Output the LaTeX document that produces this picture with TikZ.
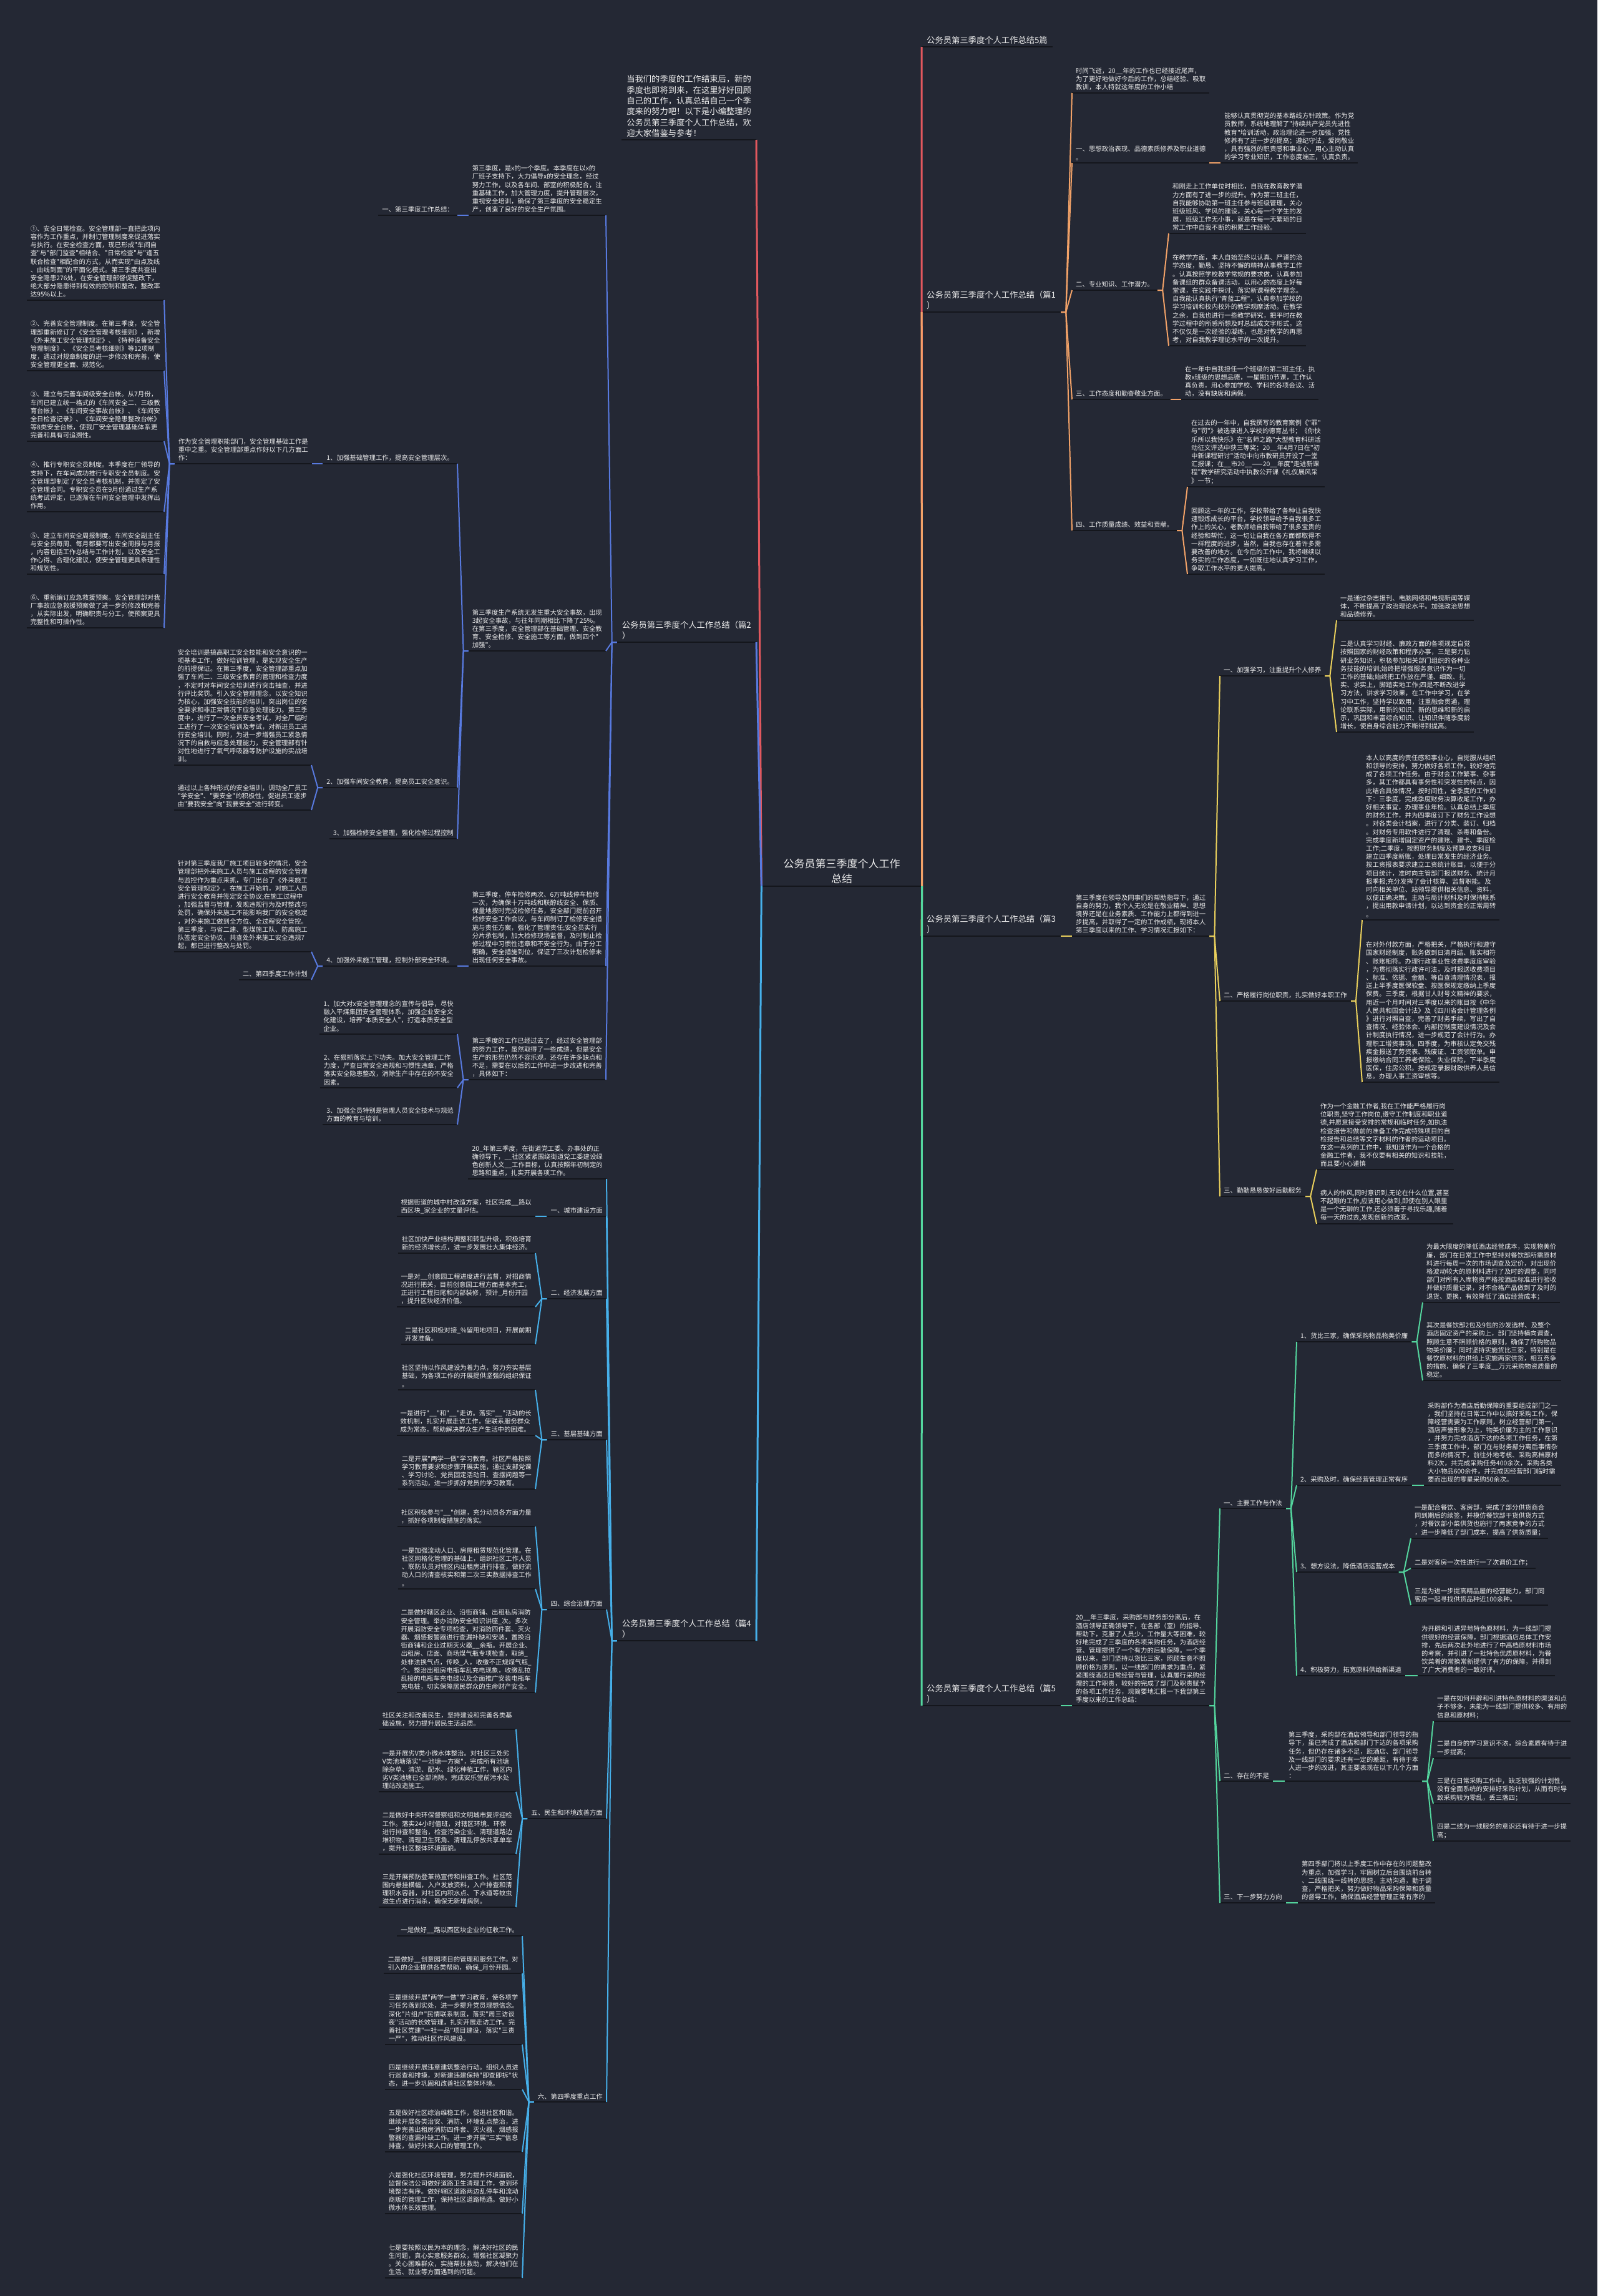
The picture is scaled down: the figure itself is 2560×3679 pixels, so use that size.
\documentclass[tikz,border=0pt]{standalone}
\usepackage{fontspec}
\setmainfont{Noto Sans CJK SC}[Ligatures=TeXOff]
\definecolor{bgc}{RGB}{36,40,52}
\definecolor{fg}{RGB}{236,236,236}
\definecolor{ulc}{RGB}{20,22,28}
\definecolor{cred}{RGB}{226,88,94}
\definecolor{cb2}{RGB}{88,122,224}
\definecolor{cb4}{RGB}{70,176,234}
\definecolor{co1}{RGB}{242,162,104}
\definecolor{cy3}{RGB}{234,208,92}
\definecolor{cg5}{RGB}{84,214,158}
\newcommand{\linkleft}[3]{\foreach \ch in {#3}{\draw[lk, draw=#1] (#2.south west) -- ++(-8,0) -- (\ch.south east);}}
\newcommand{\linkright}[3]{\foreach \ch in {#3}{\draw[lk, draw=#1] (#2.south east) -- ++(8,0) -- (\ch.south west);}}
\begin{document}
\begin{tikzpicture}[x=1pt, y=-1pt,
  txt/.style={font=\fontsize{10.4}{13.2}\selectfont, text=fg, align=left, inner xsep=6pt, inner ysep=4pt,
    append after command={(\tikzlastnode.south west) edge[draw=ulc, line width=2.4pt] (\tikzlastnode.south east)}},
  bigtxt/.style={txt, font=\fontsize{13.3}{17.4}\selectfont, inner xsep=8pt},
  lb/.style={txt, anchor=south east}, rb/.style={txt, anchor=south west},
  lbig/.style={bigtxt, anchor=south east}, rbig/.style={bigtxt, anchor=south west},
  lk/.style={line width=2pt, line join=round},
  trunk/.style={line width=3pt}]
\fill[bgc] (0,0) rectangle (2560,3679);
\useasboundingbox (0,0) rectangle (2560,3679);

\node[txt, font=\fontsize{17}{24}\selectfont, align=center, minimum width=257pt, anchor=south] (root) at (1349,1420) {公务员第三季度个人工作\\总结};

\node[lbig] (intro) at (1212,224) {当我们的季度的工作结束后，新的\\季度也即将到来，在这里好好回顾\\自己的工作，认真总结自己一个季\\度来的努力吧！以下是小编整理的\\公务员第三季度个人工作总结，欢\\迎大家借鉴与参考！};
\node[lbig] (p2) at (1212,1029) {公务员第三季度个人工作总结（篇2\\）};
\node[lbig] (p4) at (1212,2629) {公务员第三季度个人工作总结（篇4\\）};

\node[lb] (p2a) at (971,345) {第三季度，是x的一个季度。本季度在以x的\\厂班子支持下，大力倡导x的安全理念，经过\\努力工作，以及各车间、部室的积极配合，注\\重基础工作，加大管理力度，提升管理层次，\\重视安全培训，确保了第三季度的安全稳定生\\产，创造了良好的安全生产氛围。};
\node[lb] (p2a1) at (733,345) {一、第三季度工作总结：};
\node[lb] (p2b) at (971,1043) {第三季度生产系统无发生重大安全事故，出现\\3起安全事故，与往年同期相比下降了25\%。\\在第三季度，安全管理部在基础管理、安全教\\育、安全检修、安全施工等方面，做到四个"\\加强"。};
\node[lb] (p2b1) at (733,743) {1、加强基础管理工作，提高安全管理层次。};
\node[lb] (p2b1a) at (500,743) {作为安全管理职能部门，安全管理基础工作是\\重中之重。安全管理部重点作好以下几方面工\\作：};
\node[lb] (k1) at (263,481) {①、安全日常检查。安全管理部一直把此项内\\容作为工作重点，并制订管理制度来促进落实\\与执行。在安全检查方面，现已形成"车间自\\查"与"部门监查"相结合、"日常检查"与"逢五\\联合检查"相配合的方式，从而实现"由点及线\\、由线到面"的平面化模式。第三季度共查出\\安全隐患276处，在安全管理部督促整改下，\\绝大部分隐患得到有效的控制和整改，整改率\\达95\%以上。};
\node[lb] (k2) at (263,594) {②、完善安全管理制度。在第三季度，安全管\\理部重新修订了《安全管理考核细则》，新增\\《外来施工安全管理规定》、《特种设备安全\\管理制度》、《安全员考核细则》等12项制\\度，通过对规章制度的进一步修改和完善，使\\安全管理更全面、规范化。};
\node[lb] (k3) at (263,707) {③、建立与完善车间级安全台帐。从7月份，\\车间已建立统一格式的《车间安全二、三级教\\育台帐》、《车间安全事故台帐》、《车间安\\全日检查记录》、《车间安全隐患整改台帐》\\等8类安全台帐，使我厂安全管理基础体系更\\完善和具有可追溯性。};
\node[lb] (k4) at (263,820) {④、推行专职安全员制度。本季度在厂领导的\\支持下，在车间成功推行专职安全员制度。安\\全管理部制定了安全员考核机制，并签定了安\\全管理合同。专职安全员在9月份通过生产系\\统考试评定，已逐渐在车间安全管理中发挥出\\作用。};
\node[lb] (k5) at (263,920) {⑤、建立车间安全周报制度。车间安全副主任\\与安全员每周、每月都要写出安全周报与月报\\，内容包括工作总结与工作计划，以及安全工\\作心得、合理化建议，使安全管理更具条理性\\和规划性。};
\node[lb] (k6) at (263,1006) {⑥、重新编订应急救援预案。安全管理部对我\\厂事故应急救援预案做了进一步的修改和完善\\，从实际出发，明确职责与分工，使预案更具\\完整性和可操作性。};
\node[lb] (p2b2) at (733,1262) {2、加强车间安全教育，提高员工安全意识。};
\node[lb] (p2b2a) at (499,1226) {安全培训是搞高职工安全技能和安全意识的一\\项基本工作，做好培训管理，是实现安全生产\\的前提保证。在第三季度，安全管理部重点加\\强了车间二、三级安全教育的管理和检查力度\\，不定时对车间安全培训进行突击抽查，并进\\行评比奖罚。引入安全管理理念，以安全知识\\为核心，加强安全技能的培训，突出岗位的安\\全要求和非正常情况下应急处理能力。第三季\\度中，进行了一次全员安全考试，对全厂临时\\工进行了一次安全培训及考试，对新进员工进\\行安全培训。同时，为进一步增强员工紧急情\\况下的自救与应急处理能力，安全管理部有针\\对性地进行了氧气呼吸器等防护设施的实战培\\训。};
\node[lb] (p2b2b) at (499,1298) {通过以上各种形式的安全培训，调动全厂员工\\"学安全"、"要安全"的积极性，促进员工逐步\\由"要我安全"向"我要安全"进行转变。};
\node[lb] (p2b3) at (733,1344) {3、加强检修安全管理，强化检修过程控制};
\node[lb] (p2c) at (971,1548) {第三季度，停车检修两次、6万吨线停车检修\\一次，为确保十万吨线和联醇线安全、保质、\\保量地按时完成检修任务，安全部门提前召开\\检修安全工作会议，与车间制订了检修安全措\\施与责任方案，强化了管理责任;安全员实行\\分片承包制，加大检修现场监督，及时制止检\\修过程中习惯性违章和不安全行为。由于分工\\明确，安全措施到位，保证了三次计划检修未\\出现任何安全事故。};
\node[lb] (p2c1) at (733,1548) {4、加强外来施工管理，控制外部安全环境。};
\node[lb] (p2c1a) at (499,1525) {针对第三季度我厂施工项目较多的情况，安全\\管理部把外来施工人员与施工过程的安全管理\\与监控作为重点来抓，专门出台了《外来施工\\安全管理规定》。在施工开始前，对施工人员\\进行安全教育并签定安全协议;在施工过程中\\，加强监督与管理，发现违规行为及时整改与\\处罚，确保外来施工不能影响我厂的安全稳定\\，对外来施工做到全方位、全过程安全管控。\\第三季度，与省二建、型煤施工队、防腐施工\\队签定安全协议，共查处外来施工安全违规7\\起，都已进行整改与处罚。};
\node[lb] (p2c1b) at (499,1570) {二、第四季度工作计划};
\node[lb] (p2d) at (971,1730) {第三季度的工作已经过去了，经过安全管理部\\的努力工作，虽然取得了一些成绩，但是安全\\生产的形势仍然不容乐观，还存在许多缺点和\\不足，需要在以后的工作中进一步改进和完善\\，具体如下：};
\node[lb] (p2d1) at (733,1657) {1、加大对x安全管理理念的宣传与倡导，尽快\\融入平煤集团安全管理体系，加强企业安全文\\化建设，培养"本质安全人"，打造本质安全型\\企业。};
\node[lb] (p2d2) at (733,1743) {2、在狠抓落实上下功夫。加大安全管理工作\\力度，严查日常安全违规和习惯性违章，严格\\落实安全隐患整改，消除生产中存在的不安全\\因素。};
\node[lb] (p2d3) at (733,1802) {3、加强全员特别是管理人员安全技术与规范\\方面的教育与培训。};

\node[lb] (p4a) at (972,1889) {20\_年第三季度，在街道党工委、办事处的正\\确领导下，\_\_社区紧紧围绕街道党工委建设绿\\色创新人文\_\_工作目标，认真按照年初制定的\\思路和重点，扎实开展各项工作。};
\node[lb] (p4b) at (972,1949) {一、城市建设方面};
\node[lb] (p4b1) at (858,1949) {根据街道的城中村改造方案，社区完成\_\_路以\\西区块\_家企业的丈量评估。};
\node[lb] (p4c) at (972,2081) {二、经济发展方面};
\node[lb] (p4c1) at (858,2008) {社区加快产业结构调整和转型升级，积极培育\\新的经济增长点，进一步发展壮大集体经济。};
\node[lb] (p4c2) at (858,2094) {一是对\_\_创意园工程进度进行监督，对招商情\\况进行把关，目前创意园工程方面基本完工，\\正进行工程扫尾和内部装修，预计\_月份开园\\，提升区块经济价值。};
\node[lb] (p4c3) at (858,2154) {二是社区积极对接\_\%留用地项目，开展前期\\开发准备。};
\node[lb] (p4d) at (972,2307) {三、基层基础方面};
\node[lb] (p4d1) at (858,2227) {社区坚持以作风建设为着力点，努力夯实基层\\基础，为各项工作的开展提供坚强的组织保证\\。};
\node[lb] (p4d2) at (858,2300) {一是进行"\_\_"和"\_\_"走访。落实"\_\_"活动的长\\效机制，扎实开展走访工作，使联系服务群众\\成为常态，帮助解决群众生产生活中的困难。};
\node[lb] (p4d3) at (858,2386) {二是开展"两学一做"学习教育。社区严格按照\\学习教育要求和步骤开展实施，通过支部党课\\、学习讨论、党员固定活动日、查摆问题等一\\系列活动，进一步抓好党员的学习教育。};
\node[lb] (p4e) at (972,2579) {四、综合治理方面};
\node[lb] (p4e1) at (858,2446) {社区积极参与"\_\_"创建，充分动员各方面力量\\，抓好各项制度措施的落实。};
\node[lb] (p4e2) at (858,2546) {一是加强流动人口、房屋租赁规范化管理。在\\社区网格化管理的基础上，组织社区工作人员\\、联防队员对辖区内出租房进行排查，做好流\\动人口的清查核实和第二次三实数据排查工作\\。};
\node[lb] (p4e3) at (858,2712) {二是做好辖区企业、沿街商铺、出租私房消防\\安全管理。举办消防安全知识讲座\_次。多次\\开展消防安全专项检查，对消防四件套、灭火\\器、烟感报警器进行查漏补缺和安装，置换沿\\街商铺和企业过期灭火器\_\_余瓶。开展企业、\\出租房、店面、商场煤气瓶专项检查，取缔\_\\处非法换气点，传唤\_人，收缴不正规煤气瓶\_\\个。整治出租房电瓶车乱充电现象，收缴乱拉\\乱接的电瓶车充电线以及全面推广安装电瓶车\\充电桩，切实保障居民群众的生命财产安全。};
\node[lb] (p4f) at (972,2914) {五、民生和环境改善方面};
\node[lb] (p4f1) at (827,2771) {社区关注和改善民生，坚持建设和完善各类基\\础设施，努力提升居民生活品质。};
\node[lb] (p4f2) at (827,2871) {一是开展劣V类小微水体整治。对社区三处劣\\V类池塘落实"一池塘一方案"，完成所有池塘\\除杂草、清淤、配水、绿化种植工作，辖区内\\劣V类池塘已全部消除。完成安乐堂前污水处\\理站改造施工。};
\node[lb] (p4f3) at (827,2971) {二是做好中央环保督察组和文明城市复评迎检\\工作。落实24小时值班，对辖区环境、环保\\进行排查和整治，检查污染企业、清理道路边\\堆积物、清理卫生死角、清理乱停放共享单车\\，提升社区整体环境面貌。};
\node[lb] (p4f4) at (827,3056) {三是开展预防登革热宣传和排查工作。社区范\\围内悬挂横幅，入户发放资料，入户排查和清\\理积水容器，对社区内积水点、下水道等蚊虫\\滋生点进行消杀，确保无新增病例。};
\node[lb] (p4g) at (972,3368) {六、第四季度重点工作};
\node[lb] (p4g1) at (837,3102) {一是做好\_\_路以西区块企业的征收工作。};
\node[lb] (p4g2) at (837,3162) {二是做好\_\_创意园项目的管理和服务工作。对\\引入的企业提供各类帮助，确保\_月份开园。};
\node[lb] (p4g3) at (837,3276) {三是继续开展"两学一做"学习教育，使各项学\\习任务落到实处，进一步提升党员理想信念。\\深化"片组户"民情联系制度，落实"周三访谈\\夜"活动的长效管理，扎实开展走访工作。完\\善社区党建"一社一品"项目建设，落实"三责\\一严"，推动社区作风建设。};
\node[lb] (p4g4) at (837,3348) {四是继续开展违章建筑整治行动。组织人员进\\行巡查和排摸，对新建违建保持"即查即拆"状\\态，进一步巩固和改善社区整体环境。};
\node[lb] (p4g5) at (837,3448) {五是做好社区综治维稳工作，促进社区和谐。\\继续开展各类治安、消防、环境乱点整治，进\\一步完善出租房消防四件套、灭火器、烟感报\\警器的查漏补缺工作。进一步开展"三实"信息\\排查，做好外来人口的管理工作。};
\node[lb] (p4g6) at (837,3547) {六是强化社区环境管理，努力提升环境面貌，\\监督保洁公司做好道路卫生清理工作，做到环\\境整洁有序。做好辖区道路两边乱停车和流动\\商贩的管理工作，保持社区道路畅通。做好小\\微水体长效管理。};
\node[lb] (p4g7) at (837,3650) {七是要按照以民为本的理念，解决好社区的民\\生问题，真心实意服务群众，增强社区凝聚力\\。关心困难群众，实施帮扶救助，解决他们在\\生活、就业等方面遇到的问题。};

\node[rbig] (ttl) at (1477,75) {公务员第三季度个人工作总结5篇};
\node[rbig] (p1) at (1477,500) {公务员第三季度个人工作总结（篇1\\）};
\node[rb] (p1a) at (1718,149) {时间飞逝，20\_\_年的工作也已经接近尾声，\\为了更好地做好今后的工作，总结经验、吸取\\教训，本人特就这年度的工作小结};
\node[rb] (p1b) at (1718,261) {一、思想政治表现、品德素质修养及职业道德\\。};
\node[rb] (p1b1) at (1956,261) {能够认真贯彻党的基本路线方针政策。作为党\\员教师，系统地理解了"持续共产党员先进性\\教育"培训活动，政治理论进一步加强，党性\\修养有了进一步的提高；遵纪守法，爱岗敬业\\，具有强烈的职责感和事业心，用心主动认真\\的学习专业知识，工作态度端正，认真负责。};
\node[rb] (p1c) at (1718,465) {二、专业知识、工作潜力。};
\node[rb] (p1c1) at (1873,374) {和刚走上工作单位时相比，自我在教育教学潜\\力方面有了进一步的提升。作为第二班主任，\\自我能够协助第一班主任参与班级管理，关心\\班级班风、学风的建设，关心每一个学生的发\\展，班级工作无小事，就是在每一天繁琐的日\\常工作中自我不断的积累工作经验。};
\node[rb] (p1c2) at (1873,554) {在教学方面，本人自始至终以认真、严谨的治\\学态度，勤恳、坚持不懈的精神从事教学工作\\。认真按照学校教学常规的要求做，认真参加\\备课组的群众备课活动，以用心的态度上好每\\堂课，在实践中探讨、落实新课程教学理念。\\自我能认真执行"青蓝工程"，认真参加学校的\\学习培训和校内校外的教学观摩活动。在教学\\之余，自我也进行一些教学研究，把平时在教\\学过程中的所感所想及时总结成文字形式，这\\不仅仅是一次经验的凝练，也是对教学的再思\\考，对自我教学理论水平的一次提升。};
\node[rb] (p1d) at (1718,640) {三、工作态度和勤奋敬业方面。};
\node[rb] (p1d1) at (1893,640) {在一年中自我担任一个班级的第二班主任，执\\教x班级的思想品德，一星期10节课，工作认\\真负责，用心参加学校、学科的各项会议、活\\动，没有缺席和病假。};
\node[rb] (p1e) at (1718,850) {四、工作质量成绩、效益和贡献。};
\node[rb] (p1e1) at (1903,780) {在过去的一年中，自我撰写的教育案例《"罪"\\与"罚"》被选录进入学校的德育丛书；《你快\\乐所以我快乐》在"名师之路"大型教育科研活\\动征文评选中获三等奖；20\_\_年4月7日在"初\\中新课程研讨"活动中向市教研员开设了一堂\\汇报课；在\_\_市20\_\_——20\_\_年度"走进新课\\程"教学研究活动中执教公开课《礼仪展风采\\》一节；};
\node[rb] (p1e2) at (1903,920) {回顾这一年的工作，学校带给了各种让自我快\\速锻炼成长的平台，学校领导给予自我很多工\\作上的关心，老教师给自我带给了很多宝贵的\\经验和帮忙，这一切让自我在各方面都取得不\\一样程度的进步，当然，自我也存在着许多需\\要改善的地方。在今后的工作中，我将继续以\\务实的工作态度，一如既往地认真学习工作，\\争取工作水平的更大提高。};

\node[rbig] (p3) at (1477,1500) {公务员第三季度个人工作总结（篇3\\）};
\node[rb] (p3a) at (1718,1500) {第三季度在领导及同事们的帮助指导下，通过\\自身的努力，我个人无论是在敬业精神、思想\\境界还是在业务素质、工作能力上都得到进一\\步提高，并取得了一定的工作成绩，现将本人\\第三季度以来的工作、学习情况汇报如下：};
\node[rb] (p3a1) at (1955,1083) {一、加强学习，注重提升个人修养};
\node[rb] (p3a1a) at (2142,994) {一是通过杂志报刊、电脑网络和电视新闻等媒\\体，不断提高了政治理论水平。加强政治思想\\和品德修养。};
\node[rb] (p3a1b) at (2142,1173) {二是认真学习财经、廉政方面的各项规定自觉\\按照国家的财经政策和程序办事，三是努力钻\\研业务知识，积极参加相关部门组织的各种业\\务技能的培训;始终把增强服务意识作为一切\\工作的基础;始终把工作放在严谨、细致、扎\\实、求实上，脚踏实地工作;四是不断改进学\\习方法，讲求学习效果，在工作中学习，在学\\习中工作，坚持学以致用，注重融会贯通，理\\论联系实际，用新的知识、新的思维和新的启\\示，巩固和丰富综合知识、让知识伴随季度龄\\增长，使自身综合能力不断得到提高。};
\node[rb] (p3a2) at (1955,1604) {二、严格履行岗位职责，扎实做好本职工作};
\node[rb] (p3a2a) at (2183,1474) {本人以高度的责任感和事业心，自觉服从组织\\和领导的安排，努力做好各项工作，较好地完\\成了各项工作任务。由于财会工作繁事、杂事\\多，其工作都具有事务性和突发性的特点，因\\此结合具体情况，按时间性，全季度的工作如\\下：三季度，完成季度财务决算收尾工作，办\\好相关事宜，办理事业年检。认真总结上季度\\的财务工作，并为四季度订下了财务工作设想\\。对各类会计档案，进行了分类、装订、归档\\。对财务专用软件进行了清理、杀毒和备份。\\完成季度新增固定资产的建账、建卡、季度检\\工作;二季度，按照财务制度及预算收支科目\\建立四季度新账，处理日常发生的经济业务。\\按工资报表要求建立工资统计账目，以便于分\\项目统计，准时向主管部门报送财务、统计月\\报季报;充分发挥了会计核算、监督职能。及\\时向相关单位、站领导提供相关信息、资料，\\以便正确决策。主动与局计财科及时保持联系\\，提出用款申请计划，以达到资金的正常周转\\。};
\node[rb] (p3a2b) at (2183,1734) {在对外付款方面，严格把关，严格执行和遵守\\国家财经制度，账务做到日清月结、账实相符\\、账账相符。办理行政事业性收费季度度审验\\，为贯彻落实行政许可法，及时报送收费项目\\、标准、依据、金额、等自查清理情况表，报\\送上半季度医保软盘、按医保规定缴纳上季度\\保费。三季度，根据甘人财号文精神的要求，\\用近一个月时间对三季度以来的账目按《中华\\人民共和国会计法》及《四川省会计管理条例\\》进行对照自查，完善了财务手续，写出了自\\查情况、经验体会、内部控制度建设情况及会\\计制度执行情况，进一步规范了会计行为。办\\理职工增资事项。四季度，为审核认定免交残\\疾金报送了劳资表、残废证、工资领取单。申\\报缴纳合同工养老保险、失业保险，下半季度\\医保，住房公积。按规定录报财政供养人员信\\息。办理人事工资审核等。};
\node[rb] (p3a3) at (1955,1917) {三、勤勤恳恳做好后勤服务};
\node[rb] (p3a3a) at (2110,1874) {作为一个金融工作者,我在工作能严格履行岗\\位职责,坚守工作岗位,遵守工作制度和职业道\\德,并愿意接受安排的常规和临时任务,如执法\\检查报告和做前的准备工作完成特殊项目的自\\检报告和总结等文字材料的作者的运动项目。\\在这一系列的工作中，我知道作为一个合格的\\金融工作者，我不仅要有相关的知识和技能，\\而且要小心谨慎};
\node[rb] (p3a3b) at (2110,1961) {病人的作风,同时意识到,无论在什么位置,甚至\\不起眼的工作,应该用心做到,即使在别人眼里\\是一个无聊的工作,还必须善于寻找乐趣,随着\\每一天的过去,发现创新的改变。};

\node[rbig] (p5) at (1477,2733) {公务员第三季度个人工作总结（篇5\\）};
\node[rb] (p5a) at (1718,2733) {20\_\_年三季度，采购部与财务部分离后，在\\酒店领导正确领导下，在各部（室）的指导、\\帮助下，克服了人员少，工作量大等困难，较\\好地完成了三季度的各项采购任务，为酒店经\\营、管理提供了一个有力的后勤保障。一个季\\度以来，部门坚持以货比三家，照顾生意不照\\顾价格为原则，以一线部门的需求为重点，紧\\紧围绕酒店日常经营与管理，认真履行采购经\\理的工作职责，较好的完成了部门及职责赋予\\的各项工作任务，现简要地汇报一下我部第三\\季度以来的工作总结：};
\node[rb] (p5a1) at (1955,2417) {一、主要工作与作法};
\node[rb] (p5a1a) at (2078,2150) {1、货比三家，确保采购物品物美价廉};
\node[rb] (p5a1a1) at (2280,2087) {为最大限度的降低酒店经营成本，实现物美价\\廉，部门在日常工作中坚持对餐饮部所需原材\\料进行每周一次的市场调查及定价，对出现价\\格波动较大的原材料进行了及时的调整，同时\\部门对所有入库物资严格按酒店标准进行验收\\并做好质量记录，对不合格产品做到了及时的\\退货、更换，有效降低了酒店经营成本；};
\node[rb] (p5a1a2) at (2280,2212) {其次是餐饮部2包及9包的沙发选样、及整个\\酒店固定资产的采购上，部门坚持横向调查，\\照顾生意不照顾价格的原则，确保了所购物品\\物美价廉；同时坚持实施货比三家，特别是在\\餐饮原材料的供给上实施两家供货，相互竞争\\的措施，确保了三季度\_\_万元采购物资质量的\\稳定。};
\node[rb] (p5a1b) at (2078,2380) {2、采购及时，确保经营管理正常有序};
\node[rb] (p5a1b1) at (2282,2380) {采购部作为酒店后勤保障的重要组成部门之一\\，我们坚持在日常工作中以搞好采购工作，保\\障经营需要为工作原则，树立经营部门第一，\\酒店声誉形象为上，物美价廉为主的工作意识\\，并努力完成酒店下达的各项工作任务，在第\\三季度工作中，部门在与财务部分离后事情杂\\而多的情况下，前往外地考核、采购高档原材\\料2次，共完成采购任务400余次，采购各类\\大小物品600余件，并完成因经营部门临时需\\要而出现的零星采购50余次。};
\node[rb] (p5a1c) at (2078,2519) {3、想方设法，降低酒店运营成本};
\node[rb] (p5a1c1) at (2261,2465) {一是配合餐饮、客房部，完成了部分供货商合\\同到期后的续签，并模仿餐饮部干货供货方式\\，对餐饮部小菜供货也施行了两家竞争的方式\\，进一步降低了部门成本，提高了供货质量；};
\node[rb] (p5a1c2) at (2261,2513) {二是对客房一次性进行一了次调价工作；};
\node[rb] (p5a1c3) at (2261,2572) {三是为进一步提高精品屋的经营能力，部门同\\客房一起寻找供货品种近100余种。};
\node[rb] (p5a1d) at (2078,2685) {4、积极努力，拓宽原料供给新渠道};
\node[rb] (p5a1d1) at (2272,2685) {为开辟和引进异地特色原材料，为一线部门提\\供很好的经营保障，部门根据酒店总体工作安\\排，先后两次赴外地进行了中高档原材料市场\\的考察，并引进了一批特色优质原材料，为餐\\饮菜肴的常换常新提供了有力的保障，并得到\\了广大消费者的一致好评。};
\node[rb] (p5a2) at (1955,2854) {二、存在的不足};
\node[rb] (p5a2a) at (2059,2854) {第三季度，采购部在酒店领导和部门领导的指\\导下，虽已完成了酒店和部门下达的各项采购\\任务，但仍存在诸多不足，距酒店、部门领导\\及一线部门的要求还有一定的差距，有待于本\\人进一步的改进，其主要表现在以下几个方面\\：};
\node[rb] (p5a2a1) at (2297,2758) {一是在如何开辟和引进特色原材料的渠道和点\\子不够多，未能为一线部门提供较多、有用的\\信息和原材料；};
\node[rb] (p5a2a2) at (2297,2817) {二是自身的学习意识不浓，综合素质有待于进\\一步提高；};
\node[rb] (p5a2a3) at (2297,2890) {三是在日常采购工作中，缺乏较强的计划性，\\没有全面系统的安排好采购计划，从而有时导\\致采购较为零乱，丢三落四；};
\node[rb] (p5a2a4) at (2297,2950) {四是二线为一线服务的意识还有待于进一步提\\高；};
\node[rb] (p5a3) at (1955,3049) {三、下一步努力方向};
\node[rb] (p5a3a) at (2080,3049) {第四季部门将以上季度工作中存在的问题整改\\为重点，加强学习，牢固树立后台围绕前台转\\、二线围绕一线转的思想，主动沟通，勤于调\\查，严格把关，努力做好物品采购保障和质量\\的督导工作，确保酒店经营管理正常有序的};

\foreach \ch/\cl in {intro/cred, p2/cb2, p4/cb4}
  \draw[trunk, draw=\cl] (root.south west) -- (\ch.south east);
\foreach \ch/\cl in {ttl/cred, p1/co1, p3/cy3, p5/cg5}
  \draw[trunk, draw=\cl] (root.south east) -- (\ch.south west);

\linkleft{cb2}{p2}{p2a,p2b,p2c,p2d}
\linkleft{cb2}{p2a}{p2a1}
\linkleft{cb2}{p2b}{p2b1,p2b2,p2b3}
\linkleft{cb2}{p2b1}{p2b1a}
\linkleft{cb2}{p2b1a}{k1,k2,k3,k4,k5,k6}
\linkleft{cb2}{p2b2}{p2b2a,p2b2b}
\linkleft{cb2}{p2c}{p2c1}
\linkleft{cb2}{p2c1}{p2c1a,p2c1b}
\linkleft{cb2}{p2d}{p2d1,p2d2,p2d3}

\linkleft{cb4}{p4}{p4a,p4b,p4c,p4d,p4e,p4f,p4g}
\linkleft{cb4}{p4b}{p4b1}
\linkleft{cb4}{p4c}{p4c1,p4c2,p4c3}
\linkleft{cb4}{p4d}{p4d1,p4d2,p4d3}
\linkleft{cb4}{p4e}{p4e1,p4e2,p4e3}
\linkleft{cb4}{p4f}{p4f1,p4f2,p4f3,p4f4}
\linkleft{cb4}{p4g}{p4g1,p4g2,p4g3,p4g4,p4g5,p4g6,p4g7}

\linkright{co1}{p1}{p1a,p1b,p1c,p1d,p1e}
\linkright{co1}{p1b}{p1b1}
\linkright{co1}{p1c}{p1c1,p1c2}
\linkright{co1}{p1d}{p1d1}
\linkright{co1}{p1e}{p1e1,p1e2}

\linkright{cy3}{p3}{p3a}
\linkright{cy3}{p3a}{p3a1,p3a2,p3a3}
\linkright{cy3}{p3a1}{p3a1a,p3a1b}
\linkright{cy3}{p3a2}{p3a2a,p3a2b}
\linkright{cy3}{p3a3}{p3a3a,p3a3b}

\linkright{cg5}{p5}{p5a}
\linkright{cg5}{p5a}{p5a1,p5a2,p5a3}
\linkright{cg5}{p5a1}{p5a1a,p5a1b,p5a1c,p5a1d}
\linkright{cg5}{p5a1a}{p5a1a1,p5a1a2}
\linkright{cg5}{p5a1b}{p5a1b1}
\linkright{cg5}{p5a1c}{p5a1c1,p5a1c2,p5a1c3}
\linkright{cg5}{p5a1d}{p5a1d1}
\linkright{cg5}{p5a2}{p5a2a}
\linkright{cg5}{p5a2a}{p5a2a1,p5a2a2,p5a2a3,p5a2a4}
\linkright{cg5}{p5a3}{p5a3a}
\end{tikzpicture}
\end{document}
